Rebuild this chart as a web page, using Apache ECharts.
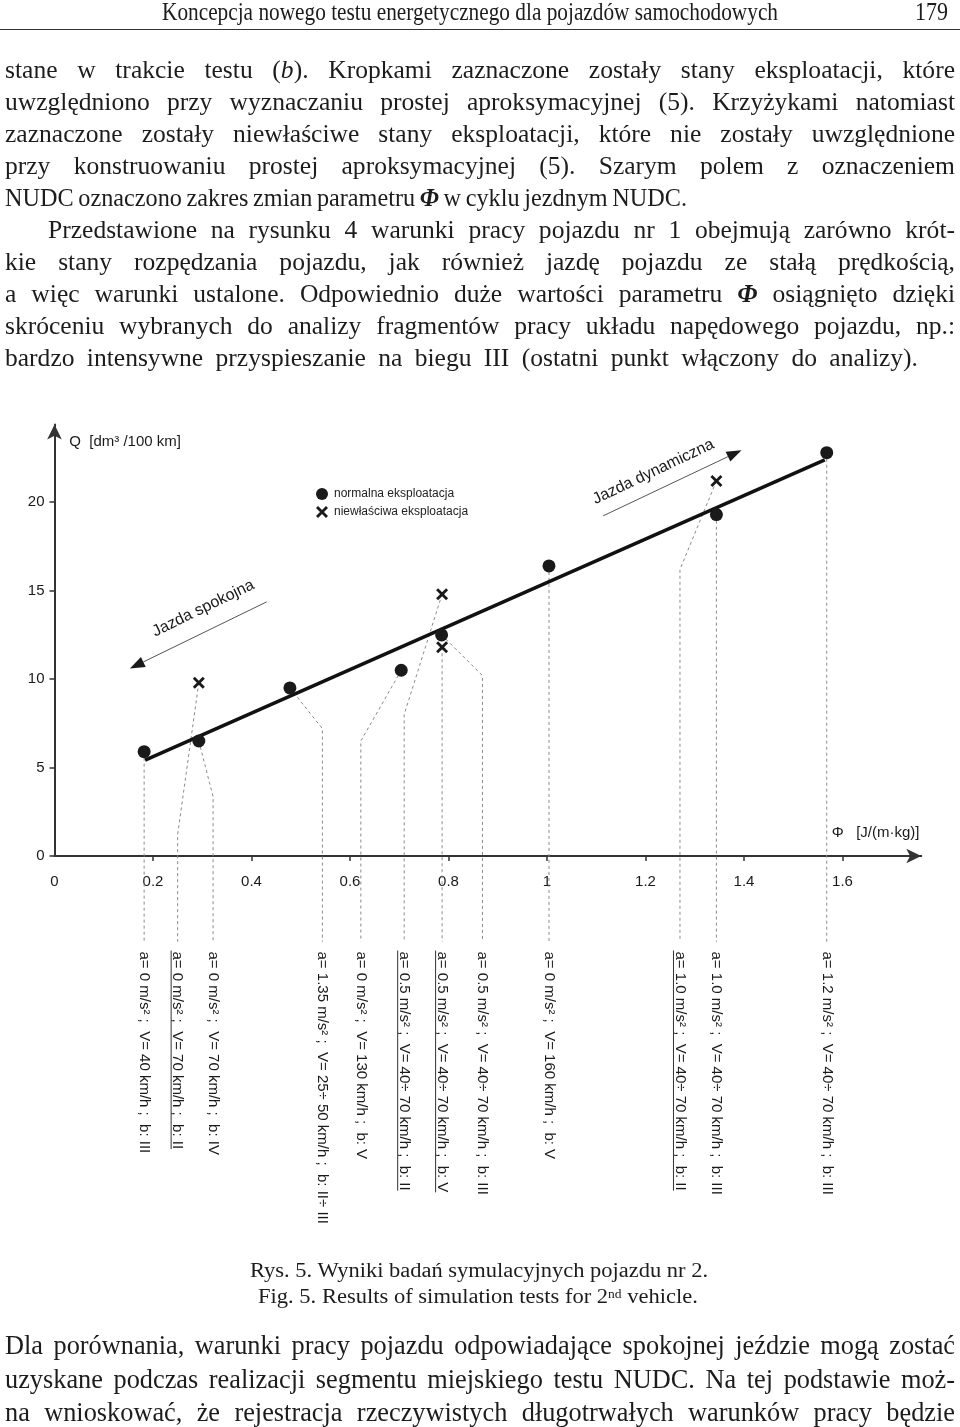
<!DOCTYPE html>
<html>
<head>
<meta charset="utf-8">
<script src="https://cdn.jsdelivr.net/npm/echarts@6/dist/echarts.min.js"></script>
<style>
html,body{margin:0;padding:0;background:#fff;}
body{width:960px;height:1427px;position:relative;overflow:hidden;}
#chart{position:absolute;left:0;top:0;width:960px;height:1427px;z-index:1;}
.line{position:absolute;z-index:2;white-space:nowrap;font-family:"Liberation Serif","Times New Roman",serif;color:#1c1c1c;}
.line span{white-space:pre;display:inline-block;transform-origin:0 50%;}
.rule{position:absolute;left:0;top:29px;width:960px;height:0;border-top:1.5px solid #333;z-index:2;}
sup{font-size:60%;vertical-align:top;position:relative;top:-2px;}
</style>
</head>
<body>
<div id="chart"></div>

<div class="line" data-mode="fit" data-w="616" style="left:162px;top:-2px;font-size:25px;line-height:28px;"><span>Koncepcja nowego testu energetycznego dla pojazdów samochodowych</span></div>
<div class="line" data-mode="fit" data-w="33" style="left:915px;top:-2px;font-size:25px;line-height:28px;"><span>179</span></div>
<div class="rule"></div>

<div class="line body" data-mode="j" data-w="950" style="left:5px;top:54px;line-height:32px;"><span>stane w trakcie testu (<i>b</i>). Kropkami zaznaczone zostały stany eksploatacji, które</span></div>
<div class="line body" data-mode="j" data-w="950" style="left:5px;top:86px;line-height:32px;"><span>uwzględniono przy wyznaczaniu prostej aproksymacyjnej (5). Krzyżykami natomiast</span></div>
<div class="line body" data-mode="j" data-w="950" style="left:5px;top:118px;line-height:32px;"><span>zaznaczone zostały niewłaściwe stany eksploatacji, które nie zostały uwzględnione</span></div>
<div class="line body" data-mode="j" data-w="950" style="left:5px;top:150px;line-height:32px;"><span>przy konstruowaniu prostej aproksymacyjnej (5). Szarym polem z oznaczeniem</span></div>
<div class="line body" id="ref1" data-mode="ws" data-w="682" style="left:5px;top:182px;line-height:32px;"><span>NUDC oznaczono zakres zmian parametru <i><b>Φ</b></i> w cyklu jezdnym NUDC.</span></div>
<div class="line body" data-mode="j" data-w="907" style="left:48px;top:214px;line-height:32px;"><span>Przedstawione na rysunku 4 warunki pracy pojazdu nr 1 obejmują zarówno krót-</span></div>
<div class="line body" data-mode="j" data-w="950" style="left:5px;top:246px;line-height:32px;"><span>kie stany rozpędzania pojazdu, jak również jazdę pojazdu ze stałą prędkością,</span></div>
<div class="line body" data-mode="j" data-w="950" style="left:5px;top:278px;line-height:32px;"><span>a więc warunki ustalone. Odpowiednio duże wartości parametru <i><b>Φ</b></i> osiągnięto dzięki</span></div>
<div class="line body" data-mode="j" data-w="950" style="left:5px;top:310px;line-height:32px;"><span>skróceniu wybranych do analizy fragmentów pracy układu napędowego pojazdu, np.:</span></div>
<div class="line body" id="ref2" data-mode="ws" data-w="913" style="left:5px;top:342px;line-height:32px;"><span>bardzo intensywne przyspieszanie na biegu III (ostatni punkt włączony do analizy).</span></div>

<div class="line" data-mode="fit" data-w="458" style="left:250px;top:1257px;font-size:20px;line-height:26px;"><span>Rys. 5. Wyniki badań symulacyjnych pojazdu nr 2.</span></div>
<div class="line" data-mode="fit" data-w="440" style="left:258px;top:1283px;font-size:20px;line-height:26px;"><span>Fig. 5. Results of simulation tests for 2<sup>nd</sup> vehicle.</span></div>

<div class="line body2" data-mode="j" data-w="950" style="left:5px;top:1329px;line-height:34px;"><span>Dla porównania, warunki pracy pojazdu odpowiadające spokojnej jeździe mogą zostać</span></div>
<div class="line body2" data-mode="j" data-w="950" style="left:5px;top:1363px;line-height:34px;"><span>uzyskane podczas realizacji segmentu miejskiego testu NUDC. Na tej podstawie moż-</span></div>
<div class="line body2" data-mode="j" data-w="950" style="left:5px;top:1396px;line-height:34px;"><span>na wnioskować, że rejestracja rzeczywistych długotrwałych warunków pracy będzie</span></div>

<script>
// ---------------- DATA ----------------
const xTickValues = [0, 0.2, 0.4, 0.6, 0.8, 1, 1.2, 1.4, 1.6];
const yTickValues = [0, 5, 10, 15, 20];

// normal operation points (dots)
const normalPhi = [0.182, 0.293, 0.478, 0.704, 0.786, 1.004, 1.344, 1.568];
const normalQ   = [5.9,   6.5,   9.5,   10.5,  12.5,  16.4,  19.3,  22.8];

// improper operation points (crosses)
const wrongPhi = [0.293, 0.787, 0.787, 1.344];
const wrongQ   = [9.8,   14.8,  11.8,  21.2];

// approximating straight line (end points)
const fitPhi = [0.184, 1.564];
const fitQ   = [5.42, 22.4];

// leader lines to the condition labels
const leaderSource = [['n',0],['w',0],['n',1],['n',2],['n',3],['w',1],['w',2],['n',4],['n',5],['w',3],['n',6],['n',7]];
const labelPhi = [0.182, 0.250, 0.322, 0.544, 0.622, 0.710, 0.787, 0.869, 1.004, 1.270, 1.344, 1.568];
const bendQ    = [null, 1.2, 3.35, 7.2, 6.5, 8.0, null, 10.2, null, 16.2, null, null];
const labelTexts = [
  'a= 0 m/s² ;  V= 40 km/h ;  b: III',
  'a= 0 m/s² ;  V= 70 km/h ;  b: II',
  'a= 0 m/s² ;  V= 70 km/h ;  b: IV',
  'a= 1.35 m/s² ;  V= 25÷ 50 km/h ;  b: II÷ III',
  'a= 0 m/s² ;  V= 130 km/h ;  b: V',
  'a= 0.5 m/s² ;  V= 40÷ 70 km/h ;  b: II',
  'a= 0.5 m/s² ;  V= 40÷ 70 km/h ;  b: V',
  'a= 0.5 m/s² ;  V= 40÷ 70 km/h ;  b: III',
  'a= 0 m/s² ;  V= 160 km/h ;  b: V',
  'a= 1.0 m/s² ;  V= 40÷ 70 km/h ;  b: II',
  'a= 1.0 m/s² ;  V= 40÷ 70 km/h ;  b: III',
  'a= 1.2 m/s² ;  V= 40÷ 70 km/h ;  b: III'
];
const underlined = [false, true, false, false, false, true, true, false, false, true, false, false];
const leaderEndQ = -4.85;
const labelTopQ = -5.4;

// annotation arrows (data coordinates) and texts
const calmArrow = [[0.431, 14.37], [0.153, 10.6]];
const calmText = {text: 'Jazda spokojna', at: [0.302, 14.0]};
const dynArrow = [[1.114, 19.23], [1.395, 22.94]];
const dynText = {text: 'Jazda dynamiczna', at: [1.216, 21.72]};

const legendNames = ['normalna eksploatacja', 'niewłaściwa eksploatacja'];

// ---------------- TEXT FITTING ----------------
(function () {
  const bodies = document.querySelectorAll('.body');
  const bodies2 = document.querySelectorAll('.body2');
  bodies.forEach(d => d.style.fontSize = '24px');
  const r1 = document.getElementById('ref1'), r2 = document.getElementById('ref2');
  const w1 = r1.firstElementChild.getBoundingClientRect().width;
  const w2 = r2.firstElementChild.getBoundingClientRect().width;
  const ratio = (682 / w1 + 913 / w2) / 2;
  const fs = 24 * ratio;
  bodies.forEach(d => d.style.fontSize = fs + 'px');
  bodies2.forEach(d => d.style.fontSize = (fs * 1.03) + 'px');
})();

document.querySelectorAll('.line').forEach(div => {
  const span = div.firstElementChild;
  const target = parseFloat(div.dataset.w);
  const w = span.getBoundingClientRect().width;
  const n = (span.textContent.match(/ /g) || []).length;
  if (div.dataset.mode === 'j') {
    if (w <= target && n > 0) span.style.wordSpacing = ((target - w) / n) + 'px';
    else span.style.transform = 'scaleX(' + (target / w) + ')';
  } else if (div.dataset.mode === 'ws') {
    let ws = (target - w) / n;
    if (ws < -1.5) {
      ws = -1.5;
      span.style.transform = 'scaleX(' + (target / (w + ws * n)) + ')';
    }
    span.style.wordSpacing = ws + 'px';
  } else {
    span.style.transform = 'scaleX(' + (target / w) + ')';
  }
});

// ---------------- CHART ----------------
const FONT = '"Liberation Sans", Arial, sans-serif';
const INK = '#1a1a1a';
const crossPath = 'path://M2,0 L6,4 L10,0 L12,2 L8,6 L12,10 L10,12 L6,8 L2,12 L0,10 L4,6 L0,2 Z';

const chart = echarts.init(document.getElementById('chart'), null, {renderer: 'canvas'});

const leaderSeries = leaderSource.map((src, i) => {
  const sx = src[0] === 'n' ? normalPhi[src[1]] : wrongPhi[src[1]];
  const sy = src[0] === 'n' ? normalQ[src[1]] : wrongQ[src[1]];
  const pts = [[sx, sy]];
  if (bendQ[i] !== null) pts.push([labelPhi[i], bendQ[i]]);
  pts.push([labelPhi[i], leaderEndQ]);
  return {
    type: 'line', name: 'leader' + i, data: pts, clip: false, silent: true,
    symbol: 'none', z: 1,
    lineStyle: {color: '#8a8a8a', width: 1, type: [3, 3]}
  };
});

chart.setOption({
  animation: false,
  backgroundColor: '#fff',
  grid: {left: 54.5, top: 424.4, right: 38.7, bottom: 571, containLabel: false, outerBoundsMode: 'none'},
  xAxis: {
    type: 'value', min: 0, max: 1.76,
    axisLine: {show: true, onZero: false, symbol: ['none', 'arrow'], symbolSize: [11, 15], lineStyle: {color: '#333', width: 2}},
    axisTick: {show: true, length: 5, lineStyle: {color: '#333', width: 1.5}, customValues: xTickValues.slice(1)},
    axisLabel: {fontFamily: FONT, fontSize: 15, color: INK, margin: 18, customValues: xTickValues,
      formatter: v => String(v)},
    splitLine: {show: false}
  },
  yAxis: {
    type: 'value', min: 0, max: 24.4,
    axisLine: {show: true, onZero: false, symbol: ['none', 'arrow'], symbolSize: [11, 15], lineStyle: {color: '#333', width: 2}},
    axisTick: {show: true, length: 5, lineStyle: {color: '#333', width: 1.5}, customValues: yTickValues},
    axisLabel: {fontFamily: FONT, fontSize: 15, color: INK, margin: 10, customValues: yTickValues},
    splitLine: {show: false}
  },
  legend: {
    orient: 'vertical', left: 311, top: 483, itemWidth: 14, itemHeight: 12, itemGap: 6,
    textStyle: {fontFamily: FONT, fontSize: 12, color: '#222'},
    data: [{name: legendNames[0], icon: 'circle'}, {name: legendNames[1], icon: crossPath}]
  },
  series: [
    ...leaderSeries,
    {
      type: 'line', name: 'fit', data: fitPhi.map((x, i) => [x, fitQ[i]]), symbol: 'none', silent: true, z: 3,
      lineStyle: {color: '#111', width: 3.5}
    },
    {
      type: 'scatter', name: legendNames[0], data: normalPhi.map((x, i) => [x, normalQ[i]]),
      symbol: 'circle', symbolSize: 13, z: 5, itemStyle: {color: '#1a1a1a', opacity: 1}
    },
    {
      type: 'scatter', name: legendNames[1], data: wrongPhi.map((x, i) => [x, wrongQ[i]]),
      symbol: crossPath, symbolSize: 12, z: 5, itemStyle: {color: '#1a1a1a', opacity: 1}
    }
  ]
});

// ---------------- ANNOTATIONS (graphic, positioned via the axes) ----------------
const toPx = (x, y) => chart.convertToPixel({gridIndex: 0}, [x, y]);
const ctx = document.createElement('canvas').getContext('2d');
const LABEL_FONT = '15px ' + FONT;
ctx.font = LABEL_FONT;

const graphics = [];

labelTexts.forEach((t, i) => {
  const p = toPx(labelPhi[i], labelTopQ);
  graphics.push({
    type: 'text', x: p[0], y: p[1], rotation: -Math.PI / 2, silent: true, z: 10,
    style: {text: t, font: LABEL_FONT, fill: INK, textAlign: 'left', textVerticalAlign: 'middle', align: 'left', verticalAlign: 'middle'}
  });
  if (underlined[i]) {
    const w = ctx.measureText(t).width;
    graphics.push({
      type: 'line', silent: true, z: 10,
      shape: {x1: p[0] - 6.5, y1: p[1] - 1, x2: p[0] - 6.5, y2: p[1] + w},
      style: {stroke: '#333', lineWidth: 1}
    });
  }
});

function arrow(a, b) {
  const p1 = toPx(a[0], a[1]), p2 = toPx(b[0], b[1]);
  const dx = p2[0] - p1[0], dy = p2[1] - p1[1];
  const L = Math.hypot(dx, dy), ux = dx / L, uy = dy / L;
  const len = 15, hw = 5.5;
  const base = [p2[0] - ux * len, p2[1] - uy * len];
  graphics.push({
    type: 'line', silent: true, z: 9,
    shape: {x1: p1[0], y1: p1[1], x2: base[0], y2: base[1]},
    style: {stroke: '#555', lineWidth: 1}
  });
  graphics.push({
    type: 'polygon', silent: true, z: 9,
    shape: {points: [[p2[0], p2[1]], [base[0] - uy * hw, base[1] + ux * hw], [base[0] + uy * hw, base[1] - ux * hw]]},
    style: {fill: '#1a1a1a'}
  });
  return Math.atan2(-(p2[1] - p1[1]), p2[0] - p1[0]);
}

let angCalm = arrow(calmArrow[0], calmArrow[1]) + Math.PI;
let angDyn = arrow(dynArrow[0], dynArrow[1]);

function rotText(o, ang) {
  const p = toPx(o.at[0], o.at[1]);
  graphics.push({
    type: 'text', x: p[0], y: p[1], rotation: ang, silent: true, z: 10,
    style: {text: o.text, font: '16px ' + FONT, fill: INK, textAlign: 'center', textVerticalAlign: 'middle', align: 'center', verticalAlign: 'middle'}
  });
}
rotText(calmText, angCalm);
rotText(dynText, angDyn);

// axis titles
const yTitle = toPx(0.03, 23.4);
graphics.push({
  type: 'text', x: yTitle[0], y: yTitle[1], silent: true, z: 10,
  style: {text: 'Q  [dm³ /100 km]', font: '15px ' + FONT, fill: INK, textAlign: 'left', textVerticalAlign: 'middle', align: 'left', verticalAlign: 'middle'}
});
const xTitle = toPx(1.578, 1.3);
graphics.push({
  type: 'text', x: xTitle[0], y: xTitle[1], silent: true, z: 10,
  style: {text: 'Φ   [J/(m·kg)]', font: '15px ' + FONT, fill: INK, textAlign: 'left', textVerticalAlign: 'middle', align: 'left', verticalAlign: 'middle'}
});

chart.setOption({graphic: {elements: graphics}});
</script>
</body>
</html>
